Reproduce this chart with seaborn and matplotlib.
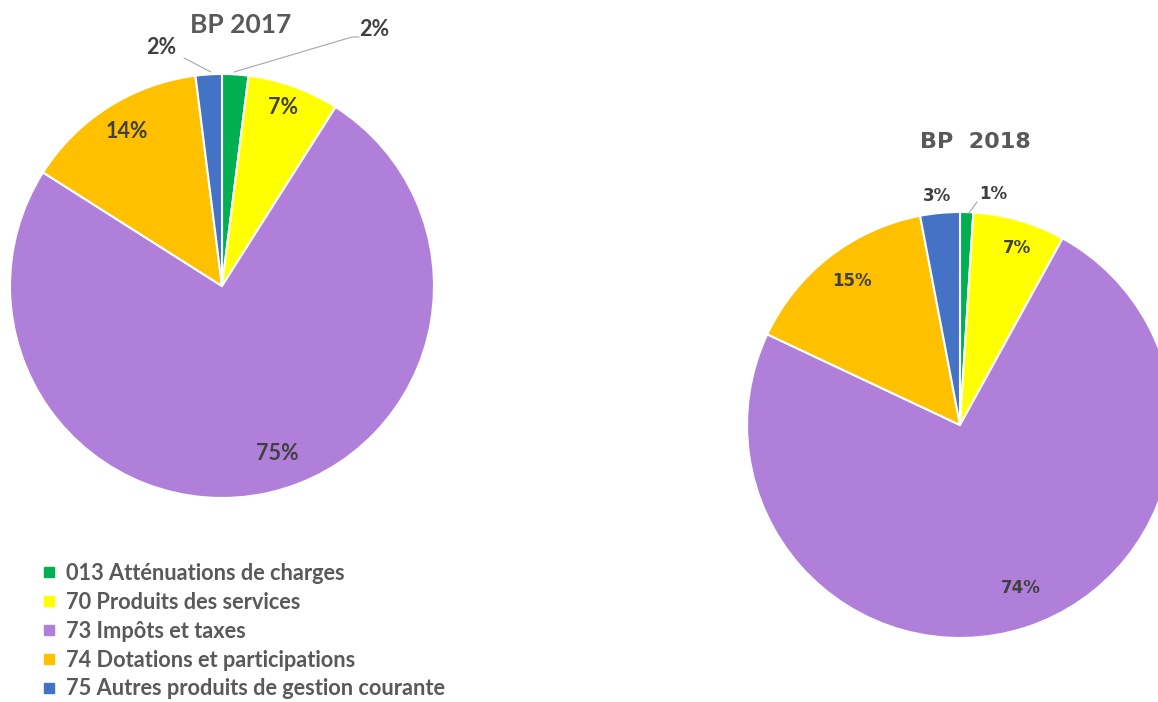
import matplotlib
matplotlib.use("Agg")
import matplotlib.pyplot as plt
import seaborn as sns
from matplotlib.lines import Line2D

categories = ["013 Atténuations de charges", "70 Produits des services",
              "73 Impôts et taxes", "74 Dotations et participations",
              "75 Autres produits de gestion courante"]
bp2017 = [2, 7, 75, 14, 2]
bp2018 = [1, 7, 74, 15, 3]
colors = ["#00B050", "#FFFF00", "#B07FDA", "#FFC000", "#4472C4"]

sns.set_theme(style="white")
plt.rcParams["font.family"] = ["Lato", "DejaVu Sans"]

W, H = 1158, 702
fig = plt.figure(figsize=(W / 100, H / 100), dpi=100)
ax = fig.add_axes([0, 0, 1, 1])

wp = dict(edgecolor="white", linewidth=1.5)
ax.pie(bp2017, colors=colors, startangle=90, counterclock=False,
       center=(222, H - 286), radius=212, wedgeprops=wp)
ax.pie(bp2018, colors=colors, startangle=90, counterclock=False,
       center=(960, H - 425), radius=213, wedgeprops=wp)
ax.set_xlim(0, W)
ax.set_ylim(0, H)
ax.set_aspect("auto")
ax.axis("off")

lab = "#404040"
tit = "#595959"

def t(x, y, s, size=15.5, color=lab, family=None):
    ax.text(x, H - y, s, fontsize=size, fontweight="bold", color=color,
            ha="center", va="center", family=family)

# titles
t(241, 25, "BP 2017", size=19, color=tit)
t(975, 142, "BP  2018", size=16, color=tit, family=["DejaVu Sans"])

# 2017 labels
t(161, 48, f"{bp2017[4]}%")
t(374, 30, f"{bp2017[0]}%")
t(283, 107, f"{bp2017[1]}%")
t(127, 131, f"{bp2017[3]}%")
t(277, 454, f"{bp2017[2]}%")
ax.plot([184, 211], [H - 58, H - 72], color="#A6A6A6", lw=0.8)
ax.plot([234, 352, 359], [H - 72, H - 37, H - 37], color="#A6A6A6", lw=0.8)

# 2018 labels
dv = ["DejaVu Sans"]
t(937, 196, f"{bp2018[4]}%", size=12, family=dv)
t(993, 194, f"{bp2018[0]}%", size=12, family=dv)
t(1017, 248, f"{bp2018[1]}%", size=12, family=dv)
t(852, 281, f"{bp2018[3]}%", size=12, family=dv)
t(1021, 588, f"{bp2018[2]}%", size=12, family=dv)
ax.plot([969, 977], [H - 213, H - 202], color="#A6A6A6", lw=0.8)

handles = [Line2D([], [], marker="s", ls="", color=c, markersize=7)
           for c in colors]
ax.legend(handles, categories, loc="upper left",
          bbox_to_anchor=(42 / W, 1 - 563 / H), frameon=False,
          prop=dict(size=15.7, weight="bold"), labelcolor=tit,
          handlelength=0.6, handletextpad=0.5, labelspacing=0.36,
          borderpad=0, borderaxespad=0)

fig.savefig("out.png", dpi=100)
